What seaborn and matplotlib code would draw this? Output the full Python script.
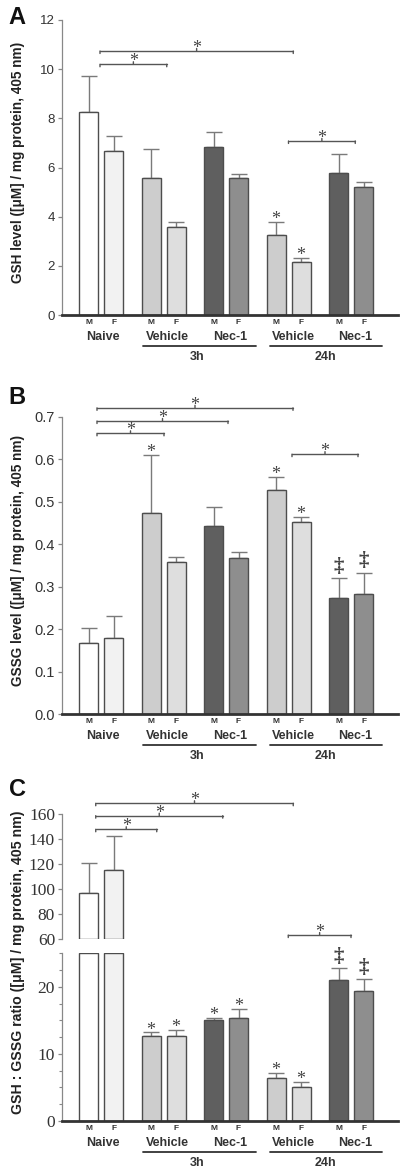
import numpy as np
import pandas as pd
import matplotlib
matplotlib.use("Agg")
import matplotlib.pyplot as plt
import seaborn as sns
from matplotlib.transforms import offset_copy
from matplotlib.ticker import MultipleLocator

# ---------------- data ----------------
sexes = ["M", "F", "M", "F", "M", "F", "M", "F", "M", "F"]
groups = ["Naive", "Naive", "Vehicle", "Vehicle", "Nec-1", "Nec-1",
          "Vehicle", "Vehicle", "Nec-1", "Nec-1"]
times = ["", "", "3h", "3h", "3h", "3h", "24h", "24h", "24h", "24h"]
bar_ids = [f"{g} {t} {s}" for g, t, s in zip(groups, times, sexes)]
positions = [0, 1, 2.5, 3.5, 5, 6, 7.5, 8.5, 10, 11]
bar_colors = ["#ffffff", "#f2f2f2", "#cdcdcd", "#dedede", "#5f5f5f",
              "#8e8e8e", "#cdcdcd", "#dedede", "#5f5f5f", "#8e8e8e"]

gsh_mean = [8.27, 6.66, 5.57, 3.59, 6.83, 5.57, 3.24, 2.17, 5.76, 5.21]
gsh_sem = [1.47, 0.62, 1.18, 0.19, 0.63, 0.18, 0.54, 0.15, 0.79, 0.19]
gsh_marks = ["", "", "", "", "", "", "*", "*", "", ""]

gssg_mean = [0.168, 0.179, 0.474, 0.358, 0.443, 0.368, 0.527, 0.453, 0.274, 0.284]
gssg_sem = [0.036, 0.052, 0.136, 0.013, 0.045, 0.014, 0.032, 0.011, 0.047, 0.049]
gssg_marks = ["", "", "*", "", "", "", "*", "*", "‡", "‡"]

ratio_mean = [96.8, 115.4, 12.6, 12.6, 15.1, 15.3, 6.4, 5.0, 21.0, 19.4]
ratio_sem = [24.5, 27.5, 0.6, 1.0, 0.3, 1.4, 0.7, 0.8, 1.8, 1.8]
ratio_marks = ["", "", "*", "*", "*", "*", "*", "*", "‡", "‡"]

# significance brackets: (x_start, x_end, y)
gsh_brackets = [(0.46, 8.19, 10.74), (0.46, 3.13, 10.2), (8.0, 10.67, 7.08)]
gssg_brackets = [(0.34, 8.18, 0.721), (0.34, 5.58, 0.690), (0.34, 3.02, 0.661),
                 (8.14, 10.78, 0.612)]
ratio_brackets_top = [(0.29, 8.19, 168.8), (0.29, 5.37, 158.9), (0.29, 2.73, 148.0),
                      (7.99, 10.5, 63.4)]

group_labels = ["Naive", "Vehicle", "Nec-1", "Vehicle", "Nec-1"]
group_label_x = [0.57, 3.15, 5.65, 8.18, 10.66]
time_labels = ["3h", "24h"]
time_label_x = [4.33, 9.46]
time_line_x = [(2.18, 6.7), (7.26, 11.74)]

# ---------------- style ----------------
sns.set_style("white")
plt.rcParams["font.family"] = ["Liberation Sans", "DejaVu Sans"]

W, H = 400, 1175
fig = plt.figure(figsize=(W / 100, H / 100), dpi=100)

def add_ax(top_px, bottom_px, left_px=62, right_px=398):
    return fig.add_axes([left_px / W, 1 - bottom_px / H,
                         (right_px - left_px) / W, (bottom_px - top_px) / H])

XLIM = (-1.06, 12.38)
EDGE = "#4d4d4d"
TXT = "#333333"
SERIF = ["Liberation Serif", "DejaVu Serif"]

def bars(ax, means, sems):
    df = pd.DataFrame({"pos": positions, "val": means, "bar": bar_ids})
    sns.barplot(data=df, x="pos", y="val", hue="bar", hue_order=bar_ids,
                palette=dict(zip(bar_ids, bar_colors)), native_scale=True,
                width=0.76, dodge=False, legend=False, errorbar=None,
                edgecolor=EDGE, linewidth=1.0, ax=ax, zorder=2)
    ax.errorbar(positions, means, yerr=[np.zeros(len(means)), sems], fmt="none",
                ecolor="#7a7a7a", elinewidth=1.0, capsize=6, capthick=1.0, zorder=1)
    ax.set_xlim(*XLIM)
    ax.set_xlabel("")
    ax.set_ylabel("")

def style_y(ax, fontsize, family=None, color="#888888"):
    for s in ["top", "right"]:
        ax.spines[s].set_visible(False)
    ax.spines["left"].set_color(color)
    ax.spines["left"].set_linewidth(0.9)
    ax.tick_params(axis="y", direction="out", length=3, width=0.9, color=color,
                   labelsize=fontsize, labelcolor=TXT, pad=2, left=True)
    if family:
        for lab in ax.get_yticklabels():
            lab.set_family(family)

def style_x(ax):
    ax.spines["bottom"].set_color("#333333")
    ax.spines["bottom"].set_linewidth(2.0)
    ax.tick_params(axis="x", bottom=False, labelbottom=False)

def px_trans(ax, dy_px):
    return offset_copy(ax.get_xaxis_transform(), fig=fig, x=0, y=dy_px, units="dots")

def bottom_labels(ax):
    for p, s in zip(positions, sexes):
        ax.text(p, 0, s, transform=px_trans(ax, -7.5), ha="center", va="center",
                fontsize=6, fontweight="bold", color=TXT)
    for x, g in zip(group_label_x, group_labels):
        ax.text(x, 0, g, transform=px_trans(ax, -22), ha="center", va="center",
                fontsize=9, fontweight="bold", color=TXT)
    for (x1, x2) in time_line_x:
        ax.plot([x1, x2], [0, 0], transform=px_trans(ax, -30.5), color="#333333",
                lw=1.3, clip_on=False)
    for x, t in zip(time_label_x, time_labels):
        ax.text(x, 0, t, transform=px_trans(ax, -41.5), ha="center", va="center",
                fontsize=9, fontweight="bold", color=TXT)

def star(ax, x, y, s):
    if s == "*":
        fs, dy, fw = 13, -1.5, "normal"
    else:
        fs, dy, fw = 15, 4.5, "bold"
    ax.annotate(s, xy=(x, y), xytext=(0, dy), textcoords="offset points",
                ha="center", va="baseline", fontsize=fs, family=SERIF,
                fontweight=fw, color="#444444", annotation_clip=False)

def bar_marks(ax, means, sems, marks, ymax=None):
    for p, m, e, s in zip(positions, means, sems, marks):
        if not s:
            continue
        if ymax is not None and m + e > ymax:
            continue
        star(ax, p, m + e, s)

def brackets(ax, brs):
    for x1, x2, y in brs:
        ax.plot([x1, x2], [y, y], color="#555555", lw=1.0, clip_on=False)
        # end ticks (short downward) and centre tick (short upward)
        for xx, d in ((x1, -2.5), (x2, -2.5), ((x1 + x2) / 2, 2.5)):
            ax.annotate("", xy=(xx, y), xytext=(0, d * 0.72), textcoords="offset points",
                        xycoords="data",
                        arrowprops=dict(arrowstyle="-", color="#555555", lw=1.0,
                                        shrinkA=0, shrinkB=0),
                        annotation_clip=False)
        star(ax, (x1 + x2) / 2, y, "*")

def ylabel(text, y_center_px, fs):
    fig.text(18 / W, 1 - y_center_px / H, text, rotation=90, ha="center",
             va="center", fontsize=fs, fontweight="bold", color="#222222")

def letter(text, x_px, y_px):
    fig.text(x_px / W, 1 - y_px / H, text, ha="center", va="center",
             fontsize=17, fontweight="bold", color="#111111")

# ---------------- panel A ----------------
axA = add_ax(20, 315)
bars(axA, gsh_mean, gsh_sem)
axA.set_ylim(0, 12)
axA.set_yticks([0, 2, 4, 6, 8, 10, 12])
axA.set_yticklabels(["0", "2", "4", "6", "8", "10", "12"])
style_y(axA, 9.5)
style_x(axA)
bottom_labels(axA)
bar_marks(axA, gsh_mean, gsh_sem, gsh_marks)
brackets(axA, gsh_brackets)
ylabel("GSH level ([μM] / mg protein, 405 nm)", 162, 9.8)
letter("A", 17, 17)

# ---------------- panel B ----------------
axB = add_ax(395.5, 714.2)
bars(axB, gssg_mean, gssg_sem)
axB.set_ylim(0, 0.75)
axB.set_yticks([0, 0.1, 0.2, 0.3, 0.4, 0.5, 0.6, 0.7])
axB.set_yticklabels(["0.0", "0.1", "0.2", "0.3", "0.4", "0.5", "0.6", "0.7"])
axB.spines["left"].set_bounds(0, 0.7)
style_y(axB, 10.5)
style_x(axB)
bottom_labels(axB)
bar_marks(axB, gssg_mean, gssg_sem, gssg_marks)
brackets(axB, gssg_brackets)
ylabel("GSSG level ([μM] / mg protein, 405 nm)", 560, 9.8)
letter("B", 17, 397)

# ---------------- panel C (broken axis) ----------------
axCt = add_ax(795.5, 939.3)
bars(axCt, ratio_mean, ratio_sem)
axCt.set_ylim(60, 175)
for p in axCt.patches:
    h = p.get_height()
    if h > 60:
        p.set_y(60)
        p.set_height(h - 60)
    else:
        p.set_visible(False)
axCt.set_yticks([60, 80, 100, 120, 140, 160])
axCt.spines["left"].set_bounds(60, 160)
axCt.spines["bottom"].set_visible(False)
style_y(axCt, 12.5, SERIF)
axCt.tick_params(axis="x", bottom=False, labelbottom=False)
brackets(axCt, ratio_brackets_top)

axCb = add_ax(953.3, 1121)
bars(axCb, ratio_mean, ratio_sem)
axCb.set_ylim(0, 25)
for p in axCb.patches:
    if p.get_height() > 25:
        p.set_height(25)
axCb.set_yticks([0, 10, 20])
axCb.yaxis.set_minor_locator(MultipleLocator(2.5))
style_y(axCb, 12.5, SERIF)
axCb.tick_params(axis="y", which="minor", length=2.5, width=0.8, color="#888888", left=True)
style_x(axCb)
bottom_labels(axCb)
bar_marks(axCb, ratio_mean, ratio_sem, ratio_marks, ymax=25)
ylabel("GSH : GSSG ratio ([μM] / mg protein, 405 nm)", 962, 10.2)
letter("C", 17, 790)

fig.savefig("out.png", dpi=100)
